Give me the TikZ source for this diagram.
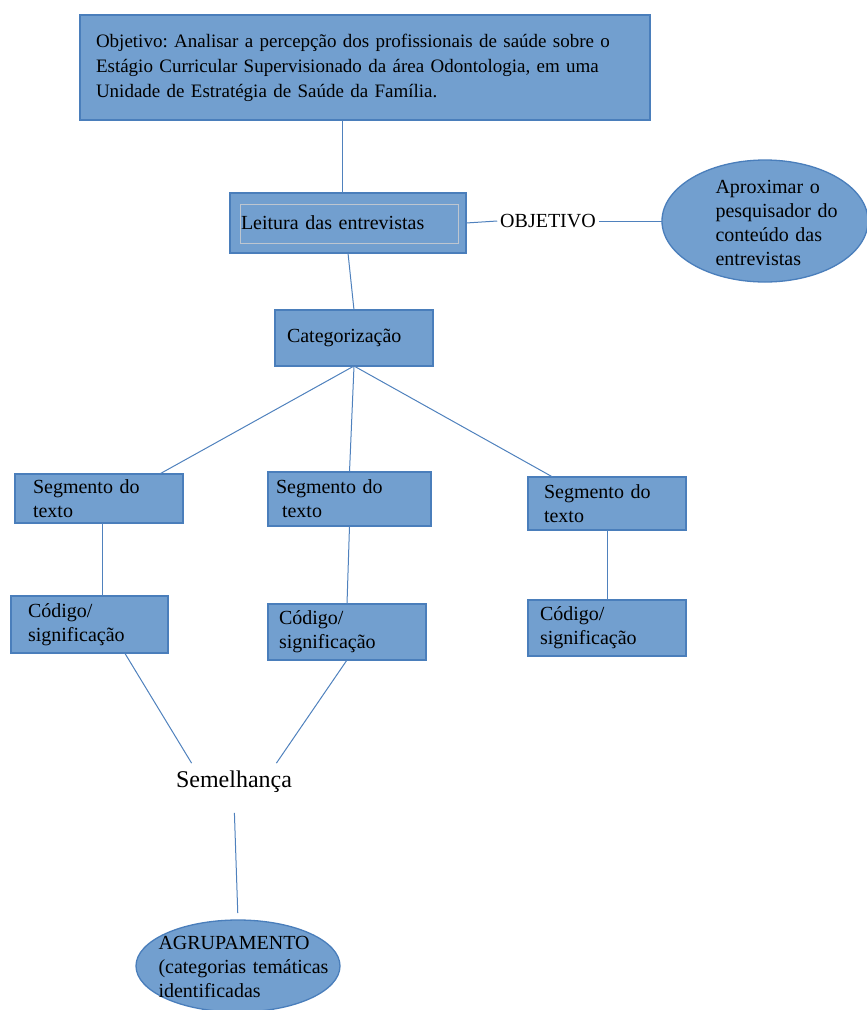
\documentclass[tikz,border=0pt]{standalone}
\usepackage{fontspec}
\setmainfont{Liberation Serif}
\usepackage{tikz}
\usetikzlibrary{shapes.geometric}
\frenchspacing

\definecolor{boxfill}{RGB}{114,159,207}
\definecolor{boxline}{RGB}{74,126,187}
\definecolor{linkcol}{RGB}{79,129,189}
\definecolor{innerline}{RGB}{190,198,208}

\begin{document}
\begin{tikzpicture}[x=1pt,y=-1pt,
    every node/.style={outer sep=0pt, font=\fontsize{20}{24}\selectfont},
    box/.style={draw=boxline, fill=boxfill, line width=1.3pt, rectangle, align=left, inner ysep=0pt},
    oval/.style={draw=boxline, fill=boxfill, line width=1.3pt, ellipse, inner sep=0pt},
    link/.style={draw=linkcol, line width=1pt}]
            \useasboundingbox (0,0) rectangle (867,1010);
            % top: objective
            \node[box, minimum width=570pt, minimum height=105pt, inner xsep=16pt, text width=538pt, font=\fontsize{19}{25}\selectfont] (obj) at (365,67.5)
                {Objetivo: Analisar a percepção dos profissionais de saúde sobre o\\Estágio Curricular Supervisionado da área Odontologia, em uma\\Unidade de Estratégia de Saúde da Família.};
            \node[box, minimum width=236pt, minimum height=60pt, inner xsep=11pt, text width=214pt] (leitura) at (348,223) {Leitura das entrevistas};
            \draw[innerline, line width=1pt] ([xshift=10pt,yshift=-11pt]leitura.north west) rectangle ([xshift=-8pt,yshift=10pt]leitura.south east);
            \node[inner sep=3pt] (objetivo) at (548,221) {OBJETIVO};
            \node[oval, minimum width=206pt, minimum height=122pt] (aprox) at (765,221) {};
            \node[align=left, text width=125pt] (aproxtxt) at (778,223) {Aproximar o\\pesquisador do\\conteúdo das\\entrevistas};
            \node[box, minimum width=158pt, minimum height=56pt, inner xsep=12pt, text width=134pt] (categ) at (354,338) {Categorização};
            % segments
            \node[box, minimum width=168pt, minimum height=49pt, inner xsep=18pt, text width=132pt] (seg1) at (99,498.5) {Segmento do\\texto};
            \node[box, minimum width=163pt, minimum height=54pt, inner xsep=8pt, text width=147pt] (seg2) at (349.5,499) {Segmento do\\\hspace*{6pt}texto};
            \node[box, minimum width=158pt, minimum height=53pt, inner xsep=16pt, text width=126pt] (seg3) at (607,503.5) {Segmento do\\texto};
            % codes
            \node[box, minimum width=157pt, minimum height=57pt, inner xsep=17pt, text width=123pt] (cod1) at (89.5,624.5) {Código/\\significação};
            \node[box, minimum width=158pt, minimum height=56pt, inner xsep=11pt, text width=136pt] (cod2) at (347,632) {Código/\\significação};
            \node[box, minimum width=158pt, minimum height=56pt, inner xsep=12pt, text width=134pt] (cod3) at (607,628) {Código/\\significação};
            % bottom
            \node[inner sep=8pt, font=\fontsize{24}{28}\selectfont] (semel) at (234,782) {Semelhança};
            \node[oval, minimum width=204pt, minimum height=92pt] (agrup) at (238,966) {};
            \node[align=left, text width=185pt] (agruptxt) at (251,967) {AGRUPAMENTO\\(categorias temáticas\\identificadas};

            \draw[link] ([xshift=-6pt]leitura.north) -- ([xshift=-6pt]leitura.north |- obj.south);
            \draw[link] (leitura.east) -- (objetivo.west);
            \draw[link] (objetivo.east) -- (aprox.west);
            \draw[link] (leitura.south) -- (categ.north);
            \draw[link] (categ.south) -- (seg1.22);
            \draw[link] (categ.south) -- (seg2.north);
            \draw[link] (categ.south) -- (seg3.154);
            \draw[link] ([xshift=3pt]seg1.south) -- ([xshift=3pt]seg1.south |- cod1.north);
            \draw[link] (seg2.south) -- (cod2.north);
            \draw[link] (seg3.south) -- (cod3.north);
            \draw[link] (cod1.-39) -- (semel.156);
            \draw[link] (cod2.south) -- (semel.24);
            \draw[link, shorten <=12pt, shorten >=7pt] (semel.south) -- (agrup.north);
\end{tikzpicture}
\end{document}
